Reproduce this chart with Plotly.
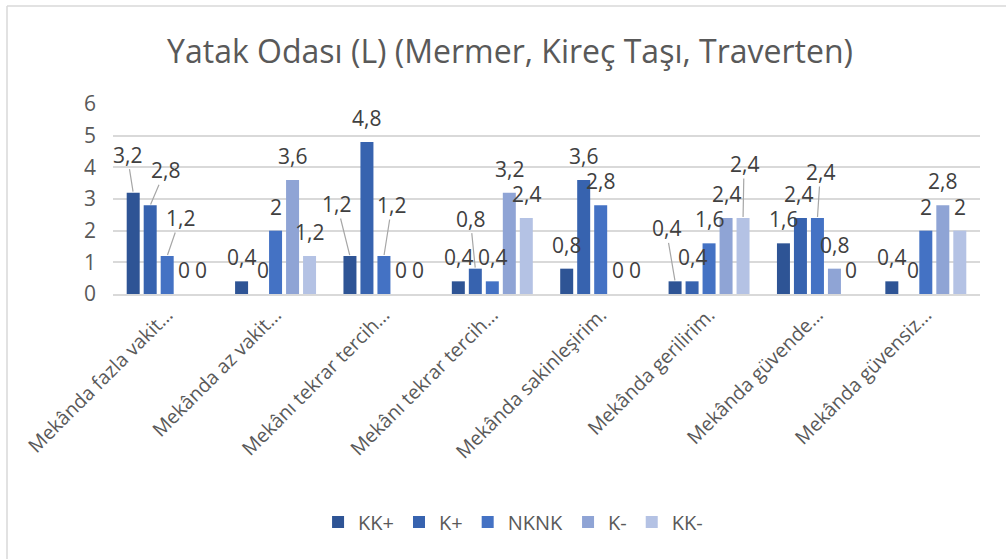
import plotly.graph_objects as go

# Category labels (truncated as shown on the axis)
categories = [
    "Mekânda fazla vakit…",
    "Mekânda az vakit…",
    "Mekânı tekrar tercih…",
    "Mekânı tekrar tercih…",
    "Mekânda sakinleşirim.",
    "Mekânda gerilirim.",
    "Mekânda güvende…",
    "Mekânda güvensiz…",
]

series_names = ["KK+", "K+", "NKNK", "K-", "KK-"]

kk_plus = [3.2, 0.4, 1.2, 0.4, 0.8, 0.4, 1.6, 0.4]
k_plus = [2.8, 0.0, 4.8, 0.8, 3.6, 0.4, 2.4, 0.0]
nknk = [1.2, 2.0, 1.2, 0.4, 2.8, 1.6, 2.4, 2.0]
k_minus = [0.0, 3.6, 0.0, 3.2, 0.0, 2.4, 0.8, 2.8]
kk_minus = [0.0, 1.2, 0.0, 2.4, 0.0, 2.4, 0.0, 2.0]

series_values = [kk_plus, k_plus, nknk, k_minus, kk_minus]

y_ticks = [0, 1, 2, 3, 4, 5, 6]

colors = ["#2E5495", "#3763AF", "#4472C4", "#8FA4D5", "#B4C2E4"]

# Label placement: (series index, category index) -> (dx, dy, leader line)
DEFAULT_OFFSET = (0, -24, False)
label_moves = {
    (0, 0): (-6, -38, True),
    (1, 0): (15, -35, True),
    (2, 0): (13, -38, True),
    (1, 1): (4, -24, False),
    (0, 2): (-13, -52, True),
    (2, 2): (8, -51, True),
    (1, 3): (-5, -50, True),
    (0, 5): (-9, -53, True),
    (4, 5): (1, -54, True),
    (1, 6): (-2, -24, False),
    (2, 6): (3, -46, True),
    (1, 7): (4, -24, False),
}

FONT = "'Open Sans', sans-serif"
BARGAP = 0.216
slot = (1 - BARGAP) / len(series_names)


def fmt(v):
    s = f"{v:g}"
    return s.replace(".", ",")


fig = go.Figure()
for name, vals, col in zip(series_names, series_values, colors):
    fig.add_trace(go.Bar(
        name=name,
        x=list(range(len(categories))),
        y=vals,
        marker=dict(color=col, line=dict(width=0)),
        hoverinfo="skip",
    ))

annotations = []
for j, vals in enumerate(series_values):
    for i, v in enumerate(vals):
        dx, dy, leader = label_moves.get((j, i), DEFAULT_OFFSET)
        xpos = i + (j - (len(series_names) - 1) / 2) * slot
        base = dict(
            x=xpos, y=v, xref="x", yref="y", text=fmt(v),
            font=dict(family=FONT, size=21, color="#404040"),
        )
        if leader:
            annotations.append(dict(
                **base, showarrow=True, ax=dx, ay=dy, axref="pixel", ayref="pixel",
                arrowhead=0, arrowwidth=1.2, arrowcolor="#A6A6A6", standoff=1,
                borderpad=0,
            ))
        else:
            annotations.append(dict(
                **base, showarrow=False, xshift=dx, yshift=-dy,
                xanchor="center", yanchor="middle",
            ))

# Chart frame (top and left edges)
plot_left, plot_right, plot_top, plot_bottom = 113, 980, 104, 294
W, H = 1006, 559


def px_to_paper_x(px):
    return (px - plot_left) / (plot_right - plot_left)


def px_to_paper_y(py):
    return (plot_bottom - py) / (plot_bottom - plot_top)


shapes = [
    dict(type="line", xref="paper", yref="paper",
         x0=px_to_paper_x(7), x1=px_to_paper_x(W + 5),
         y0=px_to_paper_y(6), y1=px_to_paper_y(6),
         line=dict(color="#D9D9D9", width=1.5)),
    dict(type="line", xref="paper", yref="paper",
         x0=px_to_paper_x(7), x1=px_to_paper_x(7),
         y0=px_to_paper_y(6), y1=px_to_paper_y(H + 5),
         line=dict(color="#D9D9D9", width=1.5)),
]

fig.update_layout(
    width=W, height=H,
    margin=dict(l=plot_left, r=W - plot_right, t=plot_top, b=H - plot_bottom),
    paper_bgcolor="white", plot_bgcolor="white",
    barmode="group", bargap=BARGAP, bargroupgap=0.235,
    title=dict(
        text="Yatak Odası (L) (Mermer, Kireç Taşı, Traverten)",
        font=dict(family=FONT, size=32, color="#595959"),
        x=0.507, xref="container", xanchor="center",
        y=1 - 52 / H, yref="container", yanchor="middle",
    ),
    xaxis=dict(
        tickmode="array", tickvals=list(range(len(categories))), ticktext=categories,
        tickangle=-45, tickfont=dict(family=FONT, size=19.5, color="#595959"),
        showgrid=False, showline=True, linecolor="#D9D9D9", linewidth=1.5,
        ticks="", range=[-0.5, len(categories) - 0.5], zeroline=False,
    ),
    yaxis=dict(
        range=[0, 6], tickvals=y_ticks,
        tickfont=dict(family=FONT, size=21, color="#595959"),
        showgrid=True, gridcolor="#D9D9D9", gridwidth=1.5,
        zeroline=False, showline=False, ticks="", ticklabelstandoff=16,
    ),
    legend=dict(
        orientation="h", xref="container", yref="container",
        x=0.51, xanchor="center", y=1 - 522 / H, yanchor="middle",
        font=dict(family=FONT, size=20, color="#595959"),
        itemwidth=30, traceorder="normal",
    ),
    annotations=annotations,
    shapes=shapes,
    showlegend=True,
)

fig.write_html("out.html")
